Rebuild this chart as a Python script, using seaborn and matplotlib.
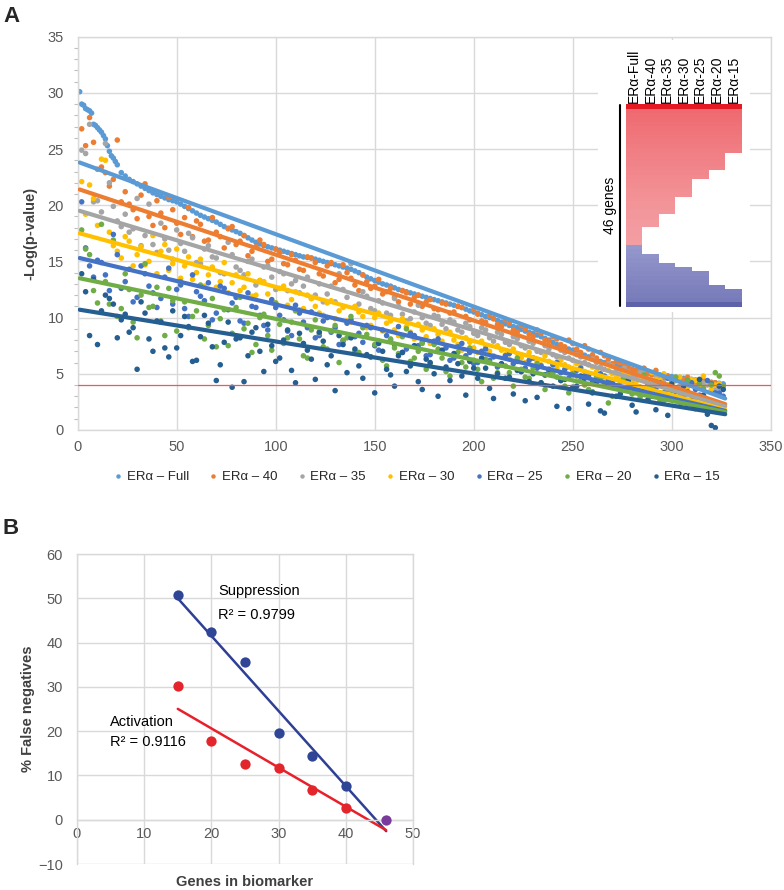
import numpy as np
import pandas as pd
import matplotlib
matplotlib.use("Agg")
import matplotlib.pyplot as plt
import seaborn as sns
from matplotlib.colors import LinearSegmentedColormap
from matplotlib.ticker import MultipleLocator

# ---------------- Panel A data ----------------
series_names = ["ERα – Full", "ERα – 40", "ERα – 35", "ERα – 30", "ERα – 25", "ERα – 20", "ERα – 15"]
series_colors = ["#5B9BD5", "#ED7D31", "#A5A5A5", "#FFC000", "#4472C4", "#70AD47", "#255E91"]

# gene rank (ordered by the full-model p-value)
full_rank = list(range(1, 21)) + list(range(22, 327, 2))
er_full = [30.1, 29.0, 28.9, 28.6, 28.5, 28.4, 28.2, 27.2, 27.1, 26.9,
           26.7, 26.5, 26.2, 25.9, 25.3, 24.8, 24.4, 24.2, 23.9, 23.6,
           22.9, 22.6, 22.3, 22.1, 21.9,
           21.7, 21.5, 21.3, 21.1, 20.95, 20.8, 20.65, 20.5, 20.4, 20.3,
           20.1, 19.9, 19.7, 19.5, 19.3, 19.1, 18.95, 18.8, 18.65, 18.5,
           18.3, 18.1, 17.95, 17.8, 17.65, 17.5, 17.3, 17.1, 16.9, 16.7,
           16.55, 16.4, 16.3, 16.2, 16.1, 16.0, 15.9, 15.8, 15.7, 15.6,
           15.5, 15.4, 15.35, 15.3, 15.2, 15.1, 15.0, 14.9, 14.8, 14.7,
           14.6, 14.5, 14.4, 14.3, 14.15, 14.0, 13.8, 13.6, 13.45, 13.3,
           13.15, 13.0, 12.9, 12.8, 12.65, 12.5, 12.4, 12.3, 12.2, 12.1,
           12.0, 11.9, 11.8, 11.7, 11.6, 11.5, 11.4, 11.3, 11.2, 11.1,
           11.0, 10.9, 10.75, 10.6, 10.5, 10.4, 10.25, 10.1, 10.0, 9.9,
           9.75, 9.6, 9.45, 9.3, 9.2, 9.1, 8.95, 8.8, 8.7, 8.6,
           8.45, 8.3, 8.15, 8.0, 7.8, 7.6, 7.45, 7.3, 7.2, 7.1,
           6.95, 6.8, 6.65, 6.5, 6.35, 6.2, 6.1, 6.0, 5.9, 5.8,
           5.7, 5.6, 5.55, 5.5, 5.4, 5.3, 5.25, 5.2, 5.1, 5.0,
           4.95, 4.9, 4.85, 4.8, 4.75, 4.7, 4.65, 4.6, 4.55, 4.5,
           4.45, 4.4, 4.35, 4.3, 4.25, 4.2, 4.15, 4.1]

gene_rank_a = list(range(2, 327, 4))
gene_rank_b = list(range(4, 325, 4))

er_40_a = [26.8, 27.8, 23.2, 22.9, 22.3, 20.3, 20.1, 18.8, 21.9, 18.2,
           19.3, 20.7, 18.4, 18.9, 17.2, 18.3, 16.9, 17.6, 16.2, 18.1,
           16.8, 15.5, 16.3, 16.5, 15.2, 15.8, 14.7, 15.1, 14.2, 15.3,
           13.9, 14.6, 13.1, 14.7, 13.5, 12.4, 13.2, 12.8, 12.1, 12.6,
           11.4, 12.2, 11.8, 11.0, 11.6, 10.7, 11.2, 10.5, 10.9, 9.8,
           10.3, 9.6, 9.9, 9.2, 9.5, 8.7, 9.0, 8.3, 8.6, 7.9,
           8.1, 7.4, 7.7, 6.9, 7.2, 6.4, 6.6, 5.9, 6.0, 5.6,
           5.3, 5.5, 4.9, 4.7, 4.8, 4.4, 4.5, 4.2, 4.3, 4.1,
           4.2, 3.9]
er_40_b = [25.3, 25.6, 23.4, 21.7, 25.8, 21.2, 19.6, 20.9, 19.0, 20.4,
           18.0, 19.6, 17.4, 19.8, 18.6, 16.8, 18.9, 17.2, 17.9, 16.5,
           17.3, 15.9, 16.9, 15.0, 16.1, 14.8, 15.6, 14.3, 15.4, 14.9,
           13.7, 14.9, 13.4, 14.0, 12.9, 13.8, 12.6, 13.4, 12.3, 11.8,
           12.4, 11.2, 12.0, 11.4, 10.8, 11.3, 10.4, 11.0, 10.1, 10.7,
           9.7, 10.2, 9.4, 9.8, 8.9, 9.3, 8.5, 8.9, 8.0, 8.3,
           7.6, 8.0, 7.2, 7.5, 6.7, 6.9, 6.3, 6.1, 5.8, 5.4,
           5.2, 5.0, 5.3, 4.6, 4.3, 4.5, 4.7, 4.0, 4.4, 4.2,
           3.8]
er_35_a = [24.9, 27.2, 20.4, 25.5, 19.9, 18.1, 17.6, 20.6, 17.3, 16.5,
           18.4, 16.0, 17.8, 15.9, 17.1, 14.8, 16.4, 15.3, 13.9, 15.6,
           14.2, 15.0, 12.9, 14.5, 13.6, 14.1, 12.4, 13.3, 12.8, 11.7,
           13.0, 12.1, 11.4, 12.5, 14.8, 11.2, 11.9, 10.6, 11.3, 10.2,
           11.0, 9.7, 10.5, 10.0, 9.3, 10.1, 9.0, 9.6, 8.7, 9.2,
           8.4, 8.9, 7.9, 8.5, 7.6, 8.1, 7.3, 7.7, 6.9, 7.2,
           6.5, 6.9, 6.2, 6.5, 5.8, 6.0, 5.4, 5.7, 5.0, 5.2,
           4.6, 5.3, 4.3, 4.6, 4.0, 4.4, 3.9, 4.1, 3.7, 4.0,
           3.6, 3.8]
er_35_b = [24.6, 20.3, 19.4, 22.0, 18.6, 19.2, 17.9, 16.4, 20.1, 15.8,
           17.0, 15.2, 16.6, 17.5, 14.9, 16.1, 15.4, 14.0, 16.7, 14.5,
           13.8, 15.2, 13.3, 14.6, 12.5, 13.9, 13.0, 12.2, 13.6, 12.0,
           11.4, 12.8, 13.9, 11.8, 10.9, 12.3, 10.8, 11.5, 10.4, 11.7,
           10.3, 9.9, 11.1, 9.5, 10.2, 9.4, 9.8, 8.9, 9.5, 8.6,
           9.1, 8.2, 8.7, 7.8, 8.3, 7.5, 7.9, 7.0, 7.5, 6.7,
           7.1, 6.4, 6.7, 6.0, 6.3, 5.6, 5.9, 5.3, 5.5, 4.9,
           5.1, 4.5, 4.8, 4.2, 4.5, 3.9, 4.3, 3.8, 4.2, 3.5,
           3.9]
er_30_a = [22.1, 21.8, 18.2, 24.0, 16.4, 15.3, 16.8, 15.6, 14.7, 17.3,
           15.9, 14.2, 16.1, 14.6, 13.4, 15.2, 13.8, 12.7, 14.9, 13.1,
           12.4, 13.9, 12.0, 13.2, 11.5, 12.6, 11.1, 12.3, 10.8, 11.7,
           10.4, 11.3, 9.9, 10.9, 9.6, 10.5, 9.1, 10.0, 8.8, 9.7,
           8.4, 9.2, 8.1, 8.9, 7.7, 8.5, 7.5, 8.0, 7.1, 7.8,
           6.9, 7.4, 6.6, 7.1, 6.3, 6.8, 6.0, 6.4, 5.8, 6.1,
           5.5, 5.8, 5.3, 5.6, 5.0, 5.2, 4.7, 5.0, 4.5, 4.8,
           4.3, 4.6, 5.1, 4.4, 4.0, 4.6, 3.9, 4.5, 3.8, 4.3,
           4.0, 3.7]
er_30_b = [19.2, 20.6, 24.1, 17.6, 15.9, 17.2, 14.6, 16.3, 15.0, 13.9,
           16.5, 14.8, 13.5, 15.4, 14.0, 12.8, 14.5, 13.2, 12.2, 13.8,
           12.7, 11.9, 13.3, 12.1, 11.3, 12.8, 11.6, 10.7, 12.0, 11.0,
           10.2, 11.5, 10.6, 9.7, 11.0, 10.1, 9.3, 10.4, 9.5, 8.9,
           9.9, 8.7, 9.4, 8.3, 9.0, 7.9, 8.7, 7.6, 8.2, 7.3,
           7.9, 7.0, 7.5, 6.7, 7.2, 6.4, 6.9, 6.1, 6.6, 5.8,
           6.2, 5.6, 5.9, 5.2, 5.6, 4.9, 5.3, 4.7, 5.1, 4.4,
           4.8, 4.2, 4.5, 5.0, 4.1, 4.7, 3.8, 4.4, 4.8, 3.6,
           4.1]
er_25_a = [20.3, 14.6, 15.1, 13.8, 17.4, 12.6, 14.3, 11.8, 13.9, 12.2,
           11.7, 14.4, 12.5, 10.8, 13.8, 11.9, 13.1, 10.4, 12.6, 11.3,
           9.7, 12.2, 10.9, 9.3, 11.6, 10.2, 8.8, 11.1, 9.6, 10.5,
           8.4, 10.0, 9.1, 7.9, 9.8, 8.6, 9.3, 7.5, 8.9, 8.0,
           9.2, 7.2, 8.4, 7.8, 6.7, 8.1, 7.3, 6.4, 7.7, 6.9,
           6.0, 7.2, 6.5, 5.8, 6.8, 6.1, 5.5, 6.4, 5.7, 5.2,
           6.0, 5.4, 4.9, 5.5, 4.8, 4.2, 4.8, 4.2, 3.6, 4.3,
           3.7, 3.2, 3.8, 3.3, 4.6, 3.4, 2.9, 4.2, 3.1, 4.4,
           3.3, 3.0]
er_25_b = [16.2, 13.6, 14.9, 12.4, 15.6, 13.2, 11.4, 14.6, 12.8, 10.9,
           13.6, 11.2, 12.9, 10.1, 12.3, 11.5, 9.8, 12.8, 10.7, 11.8,
           9.5, 11.0, 10.2, 8.9, 10.9, 9.8, 8.4, 10.4, 9.1, 8.2,
           9.7, 8.7, 7.6, 9.5, 8.3, 7.8, 9.1, 7.1, 8.4, 7.6,
           6.9, 8.6, 7.5, 6.6, 7.9, 7.0, 6.2, 7.4, 6.6, 5.9,
           7.0, 6.2, 5.6, 6.6, 5.9, 5.2, 6.2, 5.5, 4.9, 5.8,
           5.1, 4.6, 5.3, 4.8, 4.3, 5.0, 4.4, 3.9, 4.6, 4.0,
           3.5, 4.1, 3.7, 3.2, 3.9, 3.4, 4.4, 3.6, 3.0, 4.1,
           3.3]
er_20_a = [17.8, 15.6, 11.3, 13.2, 16.9, 10.8, 12.5, 8.2, 14.8, 11.0,
           9.7, 12.6, 8.8, 11.4, 10.1, 12.9, 9.3, 7.4, 10.7, 8.6,
           11.8, 9.5, 7.6, 10.3, 7.1, 9.4, 8.2, 10.6, 6.6, 8.9,
           8.6, 7.2, 9.3, 8.0, 10.1, 6.9, 8.5, 7.6, 6.2, 8.1,
           6.8, 9.0, 6.4, 7.7, 5.9, 7.2, 5.2, 6.7, 6.0, 7.3,
           5.4, 6.3, 4.6, 5.8, 5.1, 6.4, 4.7, 5.5, 4.2, 5.3,
           4.7, 3.9, 5.0, 4.4, 3.6, 4.7, 4.1, 3.0, 4.3, 3.8,
           3.4, 4.9, 3.7, 2.7, 3.6, 4.7, 2.5, 3.1, 4.1, 2.7,
           5.1, 3.9]
er_20_b = [16.1, 12.4, 18.3, 11.2, 10.1, 13.9, 9.6, 12.0, 10.9, 12.7,
           8.4, 11.5, 13.2, 9.1, 10.6, 8.1, 11.7, 9.9, 7.5, 10.9,
           9.0, 6.9, 10.0, 8.4, 11.3, 7.7, 9.6, 8.1, 6.4, 9.8,
           7.4, 8.8, 6.0, 8.2, 7.0, 9.1, 6.5, 7.9, 5.7, 7.3,
           8.3, 6.1, 7.0, 5.4, 7.6, 6.4, 4.8, 6.9, 5.6, 6.2,
           4.3, 6.0, 5.1, 5.7, 3.9, 5.4, 4.6, 5.9, 3.6, 5.0,
           4.4, 3.3, 4.8, 4.0, 3.4, 4.5, 2.4, 3.9, 4.6, 3.2,
           2.9, 3.8, 4.3, 2.6, 3.5, 3.0, 4.4, 2.8, 3.7, 4.0,
           4.8]
er_15_a = [13.9, 8.4, 7.6, 12.0, 11.2, 9.8, 8.7, 5.4, 10.4, 7.0,
           9.6, 6.5, 7.3, 10.1, 6.1, 8.3, 9.5, 4.4, 7.8, 3.8,
           8.2, 6.6, 9.1, 5.2, 7.5, 6.4, 8.9, 4.2, 7.7, 6.3,
           8.7, 5.8, 3.5, 7.6, 8.2, 5.7, 6.7, 3.3, 7.0, 4.9,
           6.6, 5.2, 7.5, 3.6, 6.0, 3.0, 5.6, 6.8, 4.8, 6.1,
           4.6, 5.5, 2.8, 5.9, 4.7, 5.3, 2.6, 5.0, 4.2, 5.4,
           2.1, 4.5, 3.8, 4.8, 2.3, 4.3, 1.5, 4.0, 3.2, 4.4,
           1.6, 3.7, 3.0, 4.2, 1.3, 3.5, 3.9, 2.7, 4.5, 1.4,
           0.2, 3.6]
er_15_b = [12.3, 13.4, 10.6, 11.7, 8.2, 10.3, 9.1, 11.4, 8.1, 9.7,
           7.3, 10.6, 8.4, 9.2, 6.2, 10.2, 7.4, 5.8, 9.6, 8.1,
           4.3, 8.7, 7.0, 9.4, 6.1, 8.0, 5.3, 8.6, 7.1, 4.5,
           7.9, 6.6, 8.4, 5.1, 7.2, 4.6, 6.5, 7.7, 5.4, 3.9,
           6.9, 5.7, 4.3, 6.3, 5.0, 7.1, 4.4, 5.9, 3.1, 5.5,
           6.4, 3.7, 5.0, 4.6, 3.2, 5.2, 4.3, 2.9, 4.9, 3.9,
           4.4, 1.9, 3.9, 4.6, 3.3, 1.7, 4.0, 3.0, 3.6, 2.2,
           3.8, 2.7, 1.8, 3.3, 4.1, 2.5, 3.4, 1.9, 3.1, 0.4,
           3.9]

# linear trend lines: value at first and last gene rank
trend_x = [1, 327]
trend_start = [23.8, 21.4, 19.5, 17.5, 15.3, 13.5, 10.7]
trend_end = [2.8, 2.3, 2.1, 1.8, 1.7, 1.6, 1.4]
threshold = 4

# inset heatmap data (46 genes)
hm_labels = ["ERα-Full", "ERα-40", "ERα-35", "ERα-30", "ERα-25", "ERα-20", "ERα-15"]
act_scores = [3.0, 2.2, 2.15, 2.1, 2.05, 2.0, 1.95, 1.9, 1.85, 1.8, 1.75, 1.7, 1.66, 1.62, 1.58, 1.54,
              1.5, 1.46, 1.42, 1.38, 1.34, 1.3, 1.27, 1.24, 1.21, 1.18, 1.15, 1.12, 1.1, 1.08, 1.06, 1.04]
sup_scores = [-1.0, -1.05, -1.1, -1.15, -1.2, -1.25, -1.3, -1.35, -1.4, -1.45, -1.5, -1.55, -1.6, -2.1]
red_counts = [32, 28, 25, 21, 17, 15, 11]
blue_counts = [14, 12, 10, 9, 8, 5, 4]

# ---------------- Panel B data ----------------
genes_in_biomarker = [15, 20, 25, 30, 35, 40]
suppression_fn = [50.8, 42.3, 35.6, 19.5, 14.4, 7.6]
activation_fn = [30.3, 17.7, 12.6, 11.6, 6.7, 2.7]
full_genes = [46]
full_fn = [0.0]
r2_suppression = "0.9799"
r2_activation = "0.9116"

# ---------------- Styling ----------------
sns.set_theme(style="whitegrid")
plt.rcParams["font.family"] = ["Liberation Sans", "DejaVu Sans"]
GRID = "#D9D9D9"
TICK = "#595959"
LAB = "#404040"

fig = plt.figure(figsize=(7.84, 8.9), dpi=100)

# ---------------- Panel A ----------------
axA = fig.add_axes([0.0991, 0.5169, 0.884, 0.4419])
series_a = [er_40_a, er_35_a, er_30_a, er_25_a, er_20_a, er_15_a]
series_b = [er_40_b, er_35_b, er_30_b, er_25_b, er_20_b, er_15_b]
frames = [pd.DataFrame({"rank": full_rank, "value": er_full, "series": series_names[0]})]
for name, va, vb in zip(series_names[1:], series_a, series_b):
    frames.append(pd.DataFrame({"rank": gene_rank_a + gene_rank_b, "value": va + vb, "series": name}))
dfA = pd.concat(frames, ignore_index=True)

sns.scatterplot(data=dfA, x="rank", y="value", hue="series", hue_order=series_names,
                palette=series_colors, s=16, linewidth=0, ax=axA, zorder=2)

trend_df = pd.concat([pd.DataFrame({"rank": trend_x, "value": [s, e], "series": n})
                      for n, s, e in zip(series_names, trend_start, trend_end)], ignore_index=True)
sns.lineplot(data=trend_df, x="rank", y="value", hue="series", hue_order=series_names,
             palette=series_colors, linewidth=3.0, legend=False, ax=axA, zorder=3)
axA.axhline(threshold, color="#E8595C", lw=0.9, zorder=4)

axA.set_xlim(0, 350)
axA.set_ylim(0, 35)
axA.xaxis.set_major_locator(MultipleLocator(50))
axA.yaxis.set_major_locator(MultipleLocator(5))
axA.yaxis.set_minor_locator(MultipleLocator(1))
axA.grid(True, which="major", color=GRID, lw=1.0)
axA.grid(False, which="minor")
axA.tick_params(axis="both", which="major", length=0, labelsize=10.5, labelcolor=TICK)
axA.tick_params(axis="x", pad=7)
axA.tick_params(axis="y", pad=10)
axA.tick_params(axis="y", which="minor", left=True, length=3, width=0.8, color="#BFBFBF")
for sp in axA.spines.values():
    sp.set_color(GRID)
    sp.set_linewidth(1.0)
axA.set_xlabel("")
axA.set_ylabel("-Log(p-value)", fontsize=10.5, fontweight="bold", color=LAB, labelpad=7)

sns.move_legend(axA, "center", bbox_to_anchor=(0.488, -0.12), ncol=7, frameon=False,
                title=None, fontsize=9.5, handletextpad=0.2, columnspacing=1.4,
                handlelength=0.9, markerscale=0.8)
for t in axA.get_legend().get_texts():
    t.set_color("#262626")

# white backdrop for the inset + "46 genes" bracket
bg = fig.add_axes([598 / 784, 1 - 312 / 890, 152 / 784, 272 / 890])
bg.set_facecolor("white")
bg.set_xticks([])
bg.set_yticks([])
bg.grid(False)
for sp in bg.spines.values():
    sp.set_visible(False)
bg.set_xlim(598, 750)
bg.set_ylim(312, 40)
bg.plot([620, 620], [105, 306], color="black", lw=1.5)
bg.text(610, 205, "46 genes", rotation=90, ha="center", va="center", fontsize=10, color="black")

# inset heatmap
axI = fig.add_axes([625.7 / 784, 1 - 306.7 / 890, 116 / 784, 202.4 / 890])
scores = act_scores + sup_scores
n_genes = len(scores)
mat = np.full((n_genes, len(hm_labels)), np.nan)
for j in range(len(hm_labels)):
    for i in range(red_counts[j]):
        mat[i, j] = scores[i]
    for i in range(n_genes - blue_counts[j], n_genes):
        mat[i, j] = scores[i]
cmap = LinearSegmentedColormap.from_list(
    "rb", [(0.0, "#5A5EA6"), (0.2308, "#9598CC"), (0.4231, "#FFFFFF"),
           (0.6154, "#F3A0A4"), (0.8462, "#EE6A70"), (1.0, "#E41B23")])
sns.heatmap(pd.DataFrame(mat, columns=hm_labels), ax=axI, cmap=cmap, vmin=-2.2, vmax=3.0,
            cbar=False, xticklabels=True, yticklabels=False)
axI.set_facecolor("white")
axI.grid(False)
axI.xaxis.tick_top()
axI.tick_params(axis="x", length=0, pad=1, labelsize=10, labelcolor="black")
for lab in axI.get_xticklabels():
    lab.set_rotation(90)
axI.set_xlabel("")
axI.set_ylabel("")

# ---------------- Panel B ----------------
axB = fig.add_axes([0.0982, 0.0292, 0.4286, 0.3483])
supp_df = pd.DataFrame({"genes": genes_in_biomarker + full_genes, "fn": suppression_fn + full_fn})
act_df = pd.DataFrame({"genes": genes_in_biomarker + full_genes, "fn": activation_fn + full_fn})
sns.regplot(data=supp_df, x="genes", y="fn", scatter=False, ci=None, truncate=True,
            color="#2E3F94", line_kws={"lw": 1.8}, ax=axB)
sns.regplot(data=act_df, x="genes", y="fn", scatter=False, ci=None, truncate=True,
            color="#E8202A", line_kws={"lw": 1.8}, ax=axB)
sns.scatterplot(x=genes_in_biomarker, y=suppression_fn, color="#2F4596", s=55, linewidth=0, ax=axB, zorder=5)
sns.scatterplot(x=genes_in_biomarker, y=activation_fn, color="#E3262B", s=55, linewidth=0, ax=axB, zorder=5)
sns.scatterplot(x=full_genes, y=full_fn, color="#7A3C9A", s=55, linewidth=0, ax=axB, zorder=5)

axB.set_xlim(0, 50)
axB.set_ylim(-10, 60)
axB.xaxis.set_major_locator(MultipleLocator(10))
axB.yaxis.set_major_locator(MultipleLocator(10))
axB.grid(True, color=GRID, lw=1.0)
axB.tick_params(axis="both", length=0, labelsize=10.5, labelcolor=TICK)
axB.tick_params(axis="y", pad=10)
axB.tick_params(axis="x", pad=5)
for sp in axB.spines.values():
    sp.set_color(GRID)
    sp.set_linewidth(1.0)
axB.spines["bottom"].set_position(("data", 0))
axB.set_xlabel("Genes in biomarker", fontsize=10.5, fontweight="bold", color=LAB)
axB.xaxis.set_label_coords(0.5, -0.035)
axB.set_ylabel("% False negatives", fontsize=10.5, fontweight="bold", color=LAB, labelpad=2)
axB.text(21.0, 51.7, "Suppression", fontsize=10.5, va="center", ha="left", color="black")
axB.text(21.0, 46.3, "R² = " + r2_suppression, fontsize=10.5, va="center", ha="left", color="black")
axB.text(4.9, 22.1, "Activation", fontsize=10.5, va="center", ha="left", color="black")
axB.text(4.9, 17.5, "R² = " + r2_activation, fontsize=10.5, va="center", ha="left", color="black")

# panel letters
fig.text(3 / 784, 1 - 17 / 890, "A", fontsize=16, fontweight="bold", va="center", ha="left")
fig.text(3 / 784, 1 - 529 / 890, "B", fontsize=16, fontweight="bold", va="center", ha="left")

fig.savefig("out.png", dpi=100)
